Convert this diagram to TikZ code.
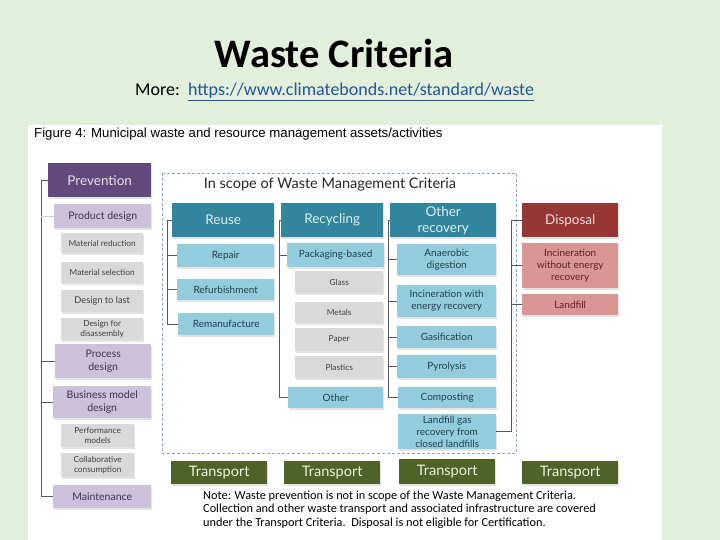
\documentclass[tikz,border=0pt]{standalone}
\usepackage{fontspec}
\setmainfont{Lato}
\newfontfamily\calf{Carlito}
\newfontfamily\arialf{Liberation Sans}
\usetikzlibrary{shadows}
\definecolor{cBg}{HTML}{E2EFDA}
\definecolor{cPrev}{HTML}{604A7B}
\definecolor{cPrevT}{HTML}{E6E0EC}
\definecolor{cLp}{HTML}{CCC1DA}
\definecolor{cLpT}{HTML}{3F3151}
\definecolor{cGr}{HTML}{D9D9D9}
\definecolor{cGrT}{HTML}{404040}
\definecolor{cTeal}{HTML}{31859C}
\definecolor{cTealT}{HTML}{DAEEF3}
\definecolor{cLb}{HTML}{93CDDD}
\definecolor{cLbT}{HTML}{233F4C}
\definecolor{cDisp}{HTML}{953735}
\definecolor{cDispT}{HTML}{F2DCDB}
\definecolor{cPink}{HTML}{D99694}
\definecolor{cPinkT}{HTML}{5A2220}
\definecolor{cTr}{HTML}{4F6228}
\definecolor{cTrT}{HTML}{EBF1DE}
\definecolor{cLine}{HTML}{595959}
\definecolor{cDash}{HTML}{8EA4BF}
\definecolor{cLink}{HTML}{1F56A0}
\newcommand\bx[7]{\node[#2, anchor=north west, minimum width={(#5-#3)*1pt}, minimum height={(#6-#4)*1pt}] (#1) at (#3,#4) {#7};}
\begin{document}
\begin{tikzpicture}[
 x=1pt,y=-1pt,
 bx/.style={inner sep=1pt, align=center, drop shadow={opacity=0.22,shadow xshift=1.2pt,shadow yshift=-1.5pt}},
 prevS/.style={bx, fill=cPrev, text=cPrevT, font=\fontsize{13.5}{15}\selectfont},
 lpS/.style={bx, fill=cLp, text=cLpT, font=\fontsize{10.5}{12.5}\selectfont},
 grS/.style={bx, fill=cGr, text=cGrT, font=\fontsize{8.3}{9.6}\selectfont},
 tealS/.style={bx, fill=cTeal, text=cTealT, font=\fontsize{13.5}{16}\selectfont},
 lbS/.style={bx, fill=cLb, text=cLbT, font=\fontsize{10}{12}\selectfont},
 dispS/.style={bx, fill=cDisp, text=cDispT, font=\fontsize{13.5}{15}\selectfont},
 pinkS/.style={bx, fill=cPink, text=cPinkT, font=\fontsize{10}{12}\selectfont},
 trS/.style={bx, fill=cTr, text=cTrT, font=\fontsize{14.5}{16}\selectfont},
 conn/.style={draw=cLine, line width=0.7pt},
 notetxt/.style={anchor=base west, inner sep=0, font=\calf\fontsize{12.3}{14}\selectfont},
]
\fill[cBg] (0,0) rectangle (720,540);
\fill[white] (28,125) rectangle (662,540);
\useasboundingbox (0,0) rectangle (720,540);

% titles
\node[anchor=base, font=\calf\bfseries\fontsize{40.5}{44}\selectfont] (title) at (334,68) {Waste Criteria};
\node[anchor=base west, font=\calf\fontsize{18}{20}\selectfont, inner sep=0] (more) at (135,96) {More:\ \ \textcolor{cLink}{\underline{https://www.climatebonds.net/standard/waste}}};
\node[anchor=base west, font=\arialf\fontsize{13.2}{15}\selectfont, inner sep=0, text=black] (fig) at (34,138) {Figure 4: Municipal waste and resource management assets/activities};

% scope box
\draw[cDash, line width=0.8pt, dash pattern=on 3pt off 2pt] (162,173) rectangle (516,453);
\node[anchor=base, font=\fontsize{14.5}{16}\selectfont, text=black!85] (scope) at (330,189) {In scope of Waste Management Criteria};

% Prevention column
\bx{prev}{prevS}{48}{163}{151}{197}{Prevention}
\bx{prod}{lpS}{54}{204}{151}{228}{Product design}
\bx{mred}{grS}{61}{233}{143}{253}{Material reduction}
\bx{msel}{grS}{61}{262}{143}{283}{Material selection}
\bx{dlast}{grS, font=\fontsize{9.3}{10}\selectfont}{61}{290}{143}{312}{Design to last}
\bx{ddis}{grS}{61}{318}{143}{340}{Design for\\disassembly}
\bx{proc}{lpS}{55}{344}{151}{378}{Process\\design}
\bx{bmd}{lpS}{53}{386}{151}{418}{Business model\\design}
\bx{perf}{grS}{61}{424}{134}{447}{Performance\\models}
\bx{coll}{grS}{61}{453}{134}{477}{Collaborative\\consumption}
\bx{maint}{lpS}{53}{485}{151}{508}{Maintenance}
\coordinate (spL) at (41,0);
\draw[conn] (prev.west) -- (prev.west -| spL) -- (maint.west -| spL) -- (maint.west);
\draw[conn, draw=black!20] (prod.west) -- (prod.west -| spL);
\draw[conn] (proc.west) -- (proc.west -| spL);
\draw[conn] (bmd.west) -- (bmd.west -| spL);

% Reuse column
\bx{reuse}{tealS}{172}{203}{274}{237}{Reuse}
\bx{repair}{lbS}{177}{244}{274}{267}{Repair}
\bx{refurb}{lbS}{177}{279}{274}{300}{Refurbishment}
\bx{reman}{lbS}{178}{313}{274}{335}{Remanufacture}
\coordinate (spRu) at (167,0);
\draw[conn] (reuse.west) -- (reuse.west -| spRu) -- (reman.west -| spRu) -- (reman.west);
\draw[conn] (repair.west) -- (repair.west -| spRu);
\draw[conn] (refurb.west) -- (refurb.west -| spRu);

% Recycling column
\bx{recyc}{tealS}{281}{203}{383}{237}{Recycling}
\bx{pack}{lbS}{287}{243}{384}{267}{Packaging-based}
\bx{glass}{grS}{295}{271}{383}{293}{Glass}
\bx{metals}{grS}{295}{302}{383}{323}{Metals}
\bx{paper}{grS}{295}{328}{383}{351}{Paper}
\bx{plast}{grS}{295}{356}{383}{378}{Plastics}
\bx{other}{lbS}{288}{387}{383}{408}{Other}
\coordinate (spRc) at (279,0);
\draw[conn] (recyc.west) -- (recyc.west -| spRc) -- (other.west -| spRc) -- (other.west);
\draw[conn] (pack.west) -- (pack.west -| spRc);

% Other recovery column
\bx{orec}{tealS}{390}{203}{496}{237}{Other\\recovery}
\bx{anae}{lbS}{397}{244}{496}{275}{Anaerobic\\digestion}
\bx{incw}{lbS}{397}{285}{496}{317}{Incineration with\\energy recovery}
\bx{gasif}{lbS}{397}{326}{496}{348}{Gasification}
\bx{pyro}{lbS}{397}{355}{496}{378}{Pyrolysis}
\bx{comp}{lbS}{398}{387}{496}{408}{Composting}
\bx{lgas}{lbS}{398}{414}{496}{449}{Landfill gas\\recovery from\\closed landfills}
\coordinate (spOr) at (388,0);
\draw[conn] (orec.west) -- (orec.west -| spOr) -- (comp.west -| spOr) -- (comp.west);
\draw[conn] (anae.west) -- (anae.west -| spOr);
\draw[conn] (incw.west) -- (incw.west -| spOr);
\draw[conn] (gasif.west) -- (gasif.west -| spOr);
\draw[conn] (pyro.west) -- (pyro.west -| spOr);

% Disposal column
\bx{disp}{dispS}{522}{203}{618}{237}{Disposal}
\bx{incwo}{pinkS}{522}{243}{618}{288}{Incineration\\without energy\\recovery}
\bx{landf}{pinkS}{522}{294}{618}{315}{Landfill}
\coordinate (spDi) at (511,0);
\draw[conn] (disp.west) -- (disp.west -| spDi) -- (lgas.east -| spDi) -- (lgas.east);
\draw[conn] (incwo.west) -- (incwo.west -| spDi);
\draw[conn] (landf.west) -- (landf.west -| spDi);

% Transport
\bx{tr1}{trS}{171}{461}{267}{484}{Transport}
\bx{tr2}{trS}{284}{461}{380}{484}{Transport}
\bx{tr3}{trS}{399}{459}{495}{484}{Transport}
\bx{tr4}{trS}{522}{461}{618}{484}{Transport}

% Note
\node[notetxt] (n1) at (203,499) {Note: Waste prevention is not in scope of the Waste Management Criteria.};
\node[notetxt] (n2) at (203,512.5) {Collection and other waste transport and associated infrastructure are covered};
\node[notetxt] (n3) at (203,526) {under the Transport Criteria.\ \ Disposal is not eligible for Certification.};
\end{tikzpicture}
\end{document}
